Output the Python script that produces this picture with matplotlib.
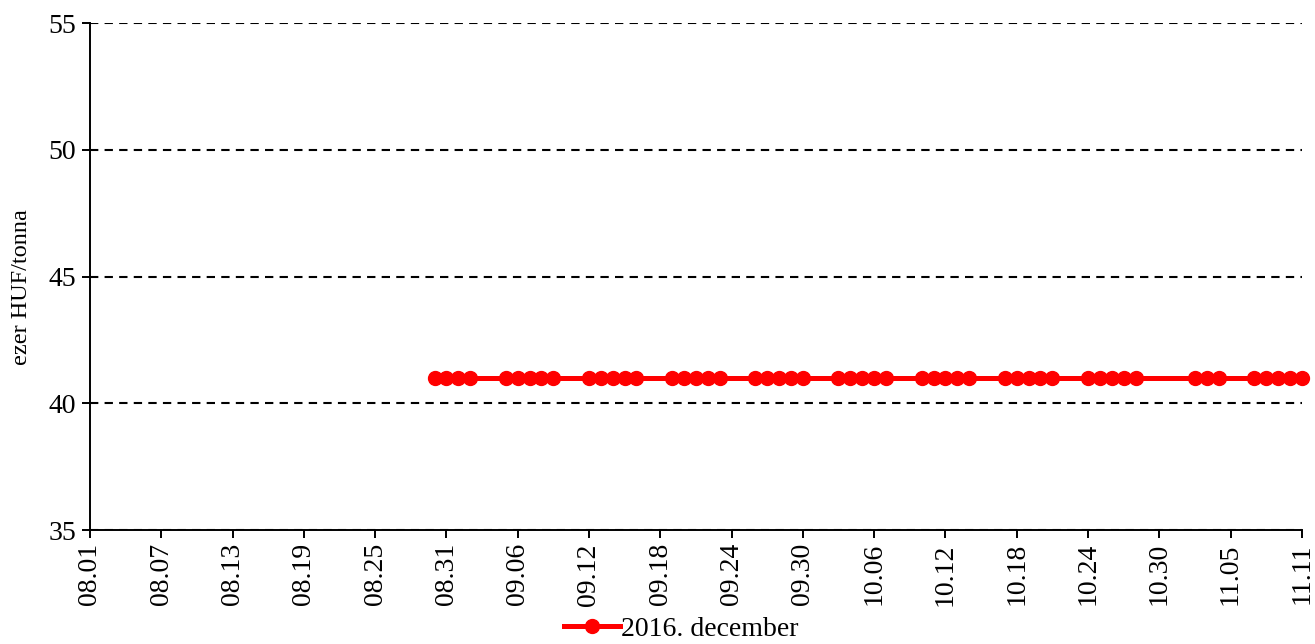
import pandas as pd
import matplotlib
matplotlib.use('Agg')
import matplotlib.pyplot as plt
import matplotlib.dates as mdates

# kereskedési napok (2016) és árak
dates = [
    '2016-08-30', '2016-08-31', '2016-09-01', '2016-09-02',
    '2016-09-05', '2016-09-06', '2016-09-07', '2016-09-08', '2016-09-09',
    '2016-09-12', '2016-09-13', '2016-09-14', '2016-09-15', '2016-09-16',
    '2016-09-19', '2016-09-20', '2016-09-21', '2016-09-22', '2016-09-23',
    '2016-09-26', '2016-09-27', '2016-09-28', '2016-09-29', '2016-09-30',
    '2016-10-03', '2016-10-04', '2016-10-05', '2016-10-06', '2016-10-07',
    '2016-10-10', '2016-10-11', '2016-10-12', '2016-10-13', '2016-10-14',
    '2016-10-17', '2016-10-18', '2016-10-19', '2016-10-20', '2016-10-21',
    '2016-10-24', '2016-10-25', '2016-10-26', '2016-10-27', '2016-10-28',
    '2016-11-02', '2016-11-03', '2016-11-04',
    '2016-11-07', '2016-11-08', '2016-11-09', '2016-11-10', '2016-11-11',
]
prices = [41.0] * len(dates)
series_name = '2016. december'

tick_dates = pd.date_range('2016-08-01', '2016-11-11', freq='6D')
y_ticks = [35, 40, 45, 50, 55]

plt.rcParams['font.family'] = ['Liberation Serif', 'DejaVu Serif']

fig = plt.figure(figsize=(13.15, 6.44), dpi=100)
ax = fig.add_axes([0.0684, 0.177, 0.9216, 0.787])

x = pd.to_datetime(dates)
ax.plot(x, prices, color='#ff0000', linewidth=3.6, marker='o', markersize=10,
        label=series_name, clip_on=False, zorder=3)

ax.set_xlim(pd.Timestamp('2016-08-01'), pd.Timestamp('2016-11-11'))
ax.set_ylim(35, 55)
ax.set_yticks(y_ticks)
ax.set_xticks(tick_dates)
ax.xaxis.set_major_formatter(mdates.DateFormatter('%m.%d'))
plt.setp(ax.get_xticklabels(), rotation=90)

ax.tick_params(axis='both', labelsize=20, direction='out', length=6, width=1.4, color='black')
ax.tick_params(axis='y', pad=4)
ax.set_ylabel('ezer HUF/tonna', fontsize=17.5)
ax.yaxis.set_label_coords(-0.048, 0.48)

ax.grid(axis='y', color='black', linestyle=(0, (4, 3)), linewidth=1.5)
ax.set_axisbelow(True)
for s in ['top', 'right']:
    ax.spines[s].set_visible(False)
for s in ['left', 'bottom']:
    ax.spines[s].set_linewidth(1.4)

fig.legend(loc='lower center', bbox_to_anchor=(0.518, -0.036), frameon=False,
           fontsize=20, handlelength=2.0, handletextpad=0.05)

fig.savefig('out.png', dpi=100)
